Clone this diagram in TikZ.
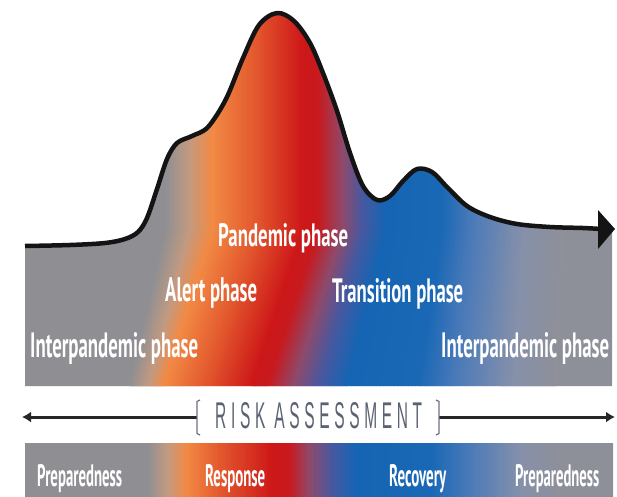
\documentclass[tikz,border=0pt]{standalone}
\usepackage{fontspec}
\usepackage{graphicx}
\usetikzlibrary{arrows.meta}
\newfontfamily\labfont{PT Sans}
\newfontfamily\riskfont{Liberation Sans}[LetterSpace=30]
\definecolor{G1}{HTML}{8F8F93}
\definecolor{TN}{HTML}{C49A80}
\definecolor{OR}{HTML}{F28A45}
\definecolor{RO}{HTML}{E2552C}
\definecolor{RD}{HTML}{CD1719}
\definecolor{RE}{HTML}{C81A1E}
\definecolor{PU}{HTML}{8E4A6C}
\definecolor{BP}{HTML}{4858A0}
\definecolor{BL}{HTML}{1565B4}
\definecolor{BM}{HTML}{1A68B5}
\definecolor{LB}{HTML}{4B7AB9}
\definecolor{GB}{HTML}{8590AA}
\definecolor{G2}{HTML}{8E9099}
\definecolor{riskgray}{HTML}{5B6272}
\definecolor{brkgray}{HTML}{6A7284}
\newcommand\lab[3]{\resizebox{#1pt}{#2pt}{\labfont\bfseries #3}}
\tikzset{
  lbl/.style={inner sep=0pt, text=white, anchor=base west},
  riskline/.style={line width=3pt, draw=black!85},
  brk/.style={line width=1.3pt, draw=brkgray},
  curveline/.style={line width=4.5pt, draw=black!92, line join=round}
}
\begin{document}
\begin{tikzpicture}[x=1pt,y=-1pt]
\useasboundingbox (0,0) rectangle (617,496);
\fill[white] (0,0) rectangle (617,496);
% upper band
\begin{scope}
\clip plot[smooth,tension=0.55] coordinates {(25,246) (70,245) (105,243) (125,239) (138,232) (147,218) (157,189) (167,159) (177,143) (192,136) (208,127) (226,99) (243,58) (259,25) (277,13) (294,21) (310,43) (323,73) (337,111) (350,153) (363,186) (377,200) (390,196) (403,181) (417,169) (432,172) (447,187) (467,206) (490,217) (517,224) (550,227) (583,228) (600,229)} -- (612,229) -- (612,386) -- (25,386) -- cycle;
\fill[G1] (0,0) rectangle (200,400);
\fill[G2] (500,0) rectangle (617,400);
\foreach \xa/\ta/\ca/\xb/\tb/\cb in {128/165/G1/148/190/TN, 148/190/TN/162/212/OR, 162/212/OR/205/258/RO, 205/258/RO/250/303/RD, 250/303/RD/266/318/RE, 266/318/RE/292/343/PU, 292/343/PU/318/362/BP, 318/362/BP/346/386/BL, 346/386/BL/418/442/BM, 418/442/BM/455/472/LB, 455/472/LB/512/522/GB, 512/522/GB/556/562/G2}{
  \foreach \j in {0,...,19}{
    \pgfmathsetmacro\pa{\xa+(\xb-\xa)*\j/20}
    \pgfmathsetmacro\pb{\xa+(\xb-\xa)*(\j+1)/20+1.2}
    \pgfmathsetmacro\qa{\ta+(\tb-\ta)*\j/20}
    \pgfmathsetmacro\qb{\ta+(\tb-\ta)*(\j+1)/20+1.2}
    \pgfmathtruncatemacro\pc{(\j+0.5)*5}
    \colorlet{stripc}{\cb!\pc!\ca}
    \fill[stripc] (\pa,390) -- (\qa,230) -- (\qa,0) -- (\qb,0) -- (\qb,230) -- (\pb,390) -- cycle;
  }
}
\end{scope}
% lower band
\begin{scope}
\clip (25,443) rectangle (613,500);
\fill[G1] (0,440) rectangle (200,500);
\fill[G2] (500,440) rectangle (617,500);
\foreach \xa/\ca/\xb/\cb in {148/G1/168/TN, 168/TN/186/OR, 186/OR/222/RO, 222/RO/272/RD, 272/RD/290/RE, 290/RE/310/PU, 310/PU/332/BP, 332/BP/356/BL, 356/BL/432/BM, 432/BM/470/LB, 470/LB/520/GB, 520/GB/560/G2}{
  \foreach \j in {0,...,19}{
    \pgfmathsetmacro\pa{\xa+(\xb-\xa)*\j/20}
    \pgfmathsetmacro\pb{\xa+(\xb-\xa)*(\j+1)/20+1.2}
    \pgfmathtruncatemacro\pc{(\j+0.5)*5}
    \colorlet{stripc}{\cb!\pc!\ca}
    \fill[stripc] (\pa,440) rectangle (\pb,500);
  }
}
\end{scope}
% curve line and arrow
\draw[curveline] plot[smooth,tension=0.55] coordinates {(25,246) (70,245) (105,243) (125,239) (138,232) (147,218) (157,189) (167,159) (177,143) (192,136) (208,127) (226,99) (243,58) (259,25) (277,13) (294,21) (310,43) (323,73) (337,111) (350,153) (363,186) (377,200) (390,196) (403,181) (417,169) (432,172) (447,187) (467,206) (490,217) (517,224) (550,227) (583,228) (601,229)};
\fill[black!92] (598,210) -- (615,229) -- (598,249) -- cycle;
% phase labels
\node[lbl] (pandemic) at (218,246) {\lab{130}{23}{Pandemic phase}};
\node[lbl] (alert) at (165,301) {\lab{92}{24}{Alert phase}};
\node[lbl] (transition) at (332,302) {\lab{131}{24}{Transition phase}};
\node[lbl] (interL) at (30,357) {\lab{168}{25}{Interpandemic phase}};
\node[lbl] (interR) at (441,357) {\lab{168}{25}{Interpandemic phase}};
% risk assessment
\node[inner sep=0pt, text=riskgray, anchor=base west] (risk) at (215,428) {\resizebox{207pt}{26pt}{\riskfont RISK ASSESSMENT}};
\coordinate (rl) at (22,417);
\coordinate (rr) at (615,417);
\coordinate (bl) at (197,417);
\coordinate (br) at (439,417);
\draw[riskline, {Latex[length=9pt,width=11pt]}-] (rl) -- (bl);
\draw[riskline, -{Latex[length=9pt,width=11pt]}] (br) -- (rr);
\draw[brk] (200,400) -- (197,401.5) -- (197,433.5) -- (200,435);
\draw[brk] (436,400) -- (439,401.5) -- (439,433.5) -- (436,435);
% lower labels
\node[lbl] (prepL) at (37,486) {\lab{85}{22}{Preparedness}};
\node[lbl] (resp) at (205,486) {\lab{60}{22}{Response}};
\node[lbl] (recov) at (389,486) {\lab{57}{22}{Recovery}};
\node[lbl] (prepR) at (515,486) {\lab{84}{22}{Preparedness}};
\end{tikzpicture}
\end{document}
